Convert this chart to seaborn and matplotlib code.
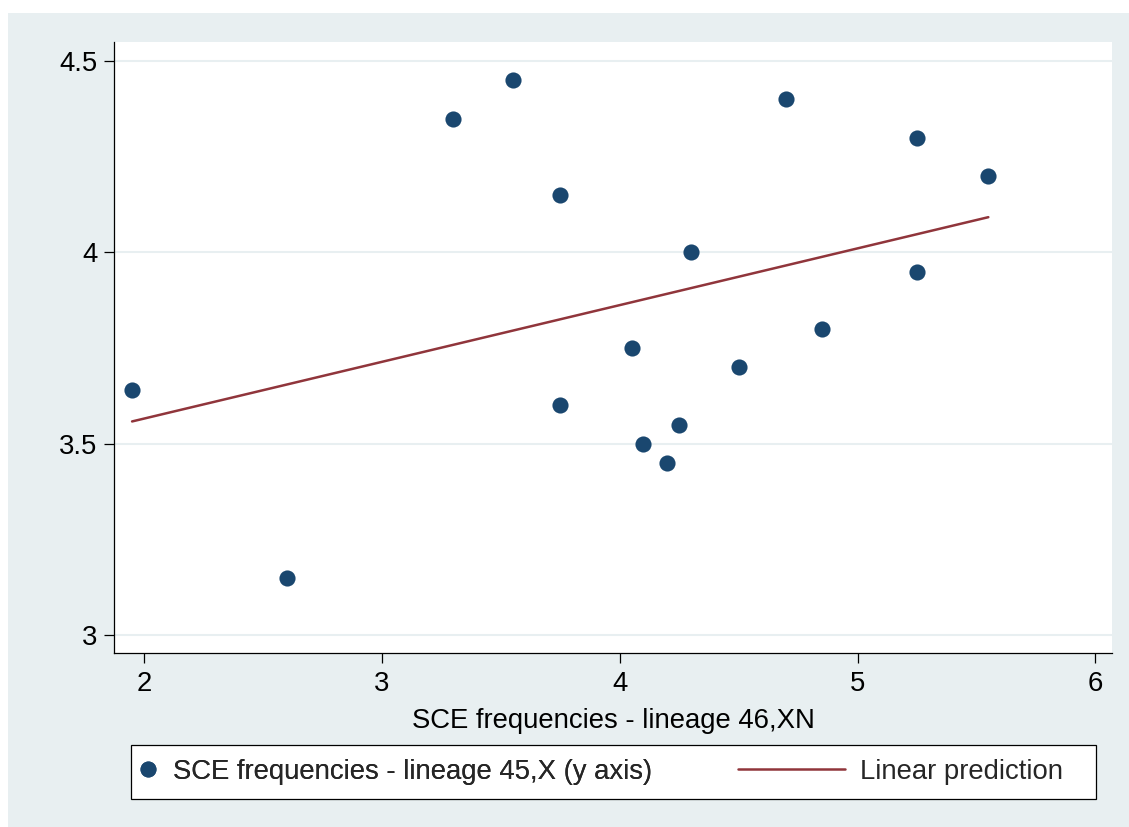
import matplotlib

matplotlib.use("Agg")
import matplotlib.pyplot as plt
from matplotlib.patches import Rectangle
from matplotlib.lines import Line2D
import numpy as np
import pandas as pd
import seaborn as sns

# ===================== 数据 =====================
sce_46xn = [1.95, 2.60, 3.30, 3.55, 3.75, 3.75, 4.05, 4.10, 4.20, 4.25,
            4.30, 4.50, 4.70, 4.85, 5.25, 5.25, 5.55]
sce_45x = [3.64, 3.15, 4.35, 4.45, 4.15, 3.60, 3.75, 3.50, 3.45, 3.55,
           4.00, 3.70, 4.40, 3.80, 4.30, 3.95, 4.20]
x_ticks = [2, 3, 4, 5, 6]
y_ticks = [3, 3.5, 4, 4.5]
y_ticklabels = ["3", "3.5", "4", "4.5"]

df = pd.DataFrame({"x": sce_46xn, "y": sce_45x})

# ===================== 样式 =====================
sns.set_theme(style="white")
plt.rcParams['font.family'] = ['Liberation Sans', 'DejaVu Sans']

BG = "#E8EFF1"
NAVY = "#1A476F"
MAROON = "#90353B"
FS = 19.8

W, H = 1129, 827
fig = plt.figure(figsize=(W / 100, H / 100), dpi=100, facecolor="white")

# 外层背景（Stata 风格）
fig.add_artist(Rectangle((8 / W, 0), 1 - 8 / W, 1 - 13 / H, transform=fig.transFigure,
                         facecolor=BG, edgecolor="none", zorder=-1))

ax = fig.add_axes([114 / W, 1 - 653 / H, (1112 - 114) / W, (653 - 42) / H])
ax.set_facecolor("white")

sns.scatterplot(data=df, x="x", y="y", ax=ax, color=NAVY, s=135, linewidth=0, zorder=3)
sns.regplot(data=df, x="x", y="y", ax=ax, scatter=False, ci=None,
            line_kws={"color": MAROON, "lw": 1.8, "zorder": 2})

ax.set_xlim(1.874, 6.07)
ax.set_ylim(2.953, 4.55)
ax.set_xticks(x_ticks)
ax.set_xticklabels([str(t) for t in x_ticks])
ax.set_yticks(y_ticks)
ax.set_yticklabels(y_ticklabels)

ax.grid(axis="y", color=BG, lw=1.5)
ax.grid(axis="x", visible=False)
ax.set_axisbelow(True)

for side in ["top", "right"]:
    ax.spines[side].set_visible(False)
for side in ["left", "bottom"]:
    ax.spines[side].set_color("black")
    ax.spines[side].set_linewidth(0.9)

ax.tick_params(axis="both", direction="out", length=7, width=0.9, color="black",
               labelsize=FS, labelcolor="black", bottom=True, left=True)
ax.tick_params(axis="y", pad=5)
ax.tick_params(axis="x", pad=6)
ax.set_xlabel("SCE frequencies - lineage 46,XN", fontsize=FS, color="black", labelpad=8)
ax.set_ylabel("")

# ===================== 图例 =====================
fig.add_artist(Rectangle((131 / W, 1 - 799 / H), (1096 - 131) / W, 54 / H,
                         transform=fig.transFigure, facecolor="white",
                         edgecolor="black", lw=0.9, zorder=2))
ly = 1 - 772 / H
h1 = Line2D([], [], marker="o", color=NAVY, linestyle="none", markersize=11.5,
            markeredgewidth=0)
leg1 = fig.legend([h1], ["SCE frequencies - lineage 45,X (y axis)"], loc="center left",
                  bbox_to_anchor=(136 / W, ly), frameon=False, fontsize=FS,
                  handlelength=0.9, handletextpad=0.45, borderpad=0, borderaxespad=0)
h2 = Line2D([], [], color=MAROON, lw=1.8)
leg2 = fig.legend([h2], ["Linear prediction"], loc="center left",
                  bbox_to_anchor=(738 / W, ly), frameon=False, fontsize=FS,
                  handlelength=3.9, handletextpad=0.55, borderpad=0, borderaxespad=0)
fig.add_artist(leg1)

fig.savefig("out.png", dpi=100, facecolor="white")
plt.close()
